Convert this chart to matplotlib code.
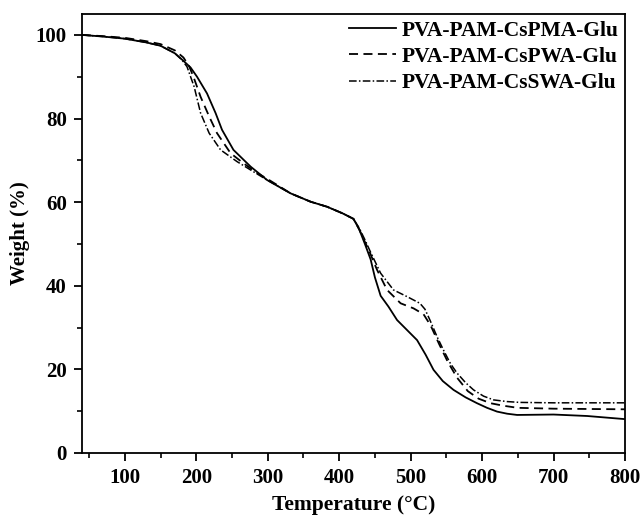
import numpy as np
import matplotlib
matplotlib.use("Agg")
import matplotlib.pyplot as plt
from matplotlib.ticker import MultipleLocator

plt.rcParams['font.family'] = ['Liberation Serif', 'DejaVu Serif']
plt.rcParams['font.weight'] = 'bold'

# TGA curves
temp_pma = [40, 70, 100, 130, 150, 170, 182, 192, 201, 215, 227, 236, 252, 276, 299, 332, 360, 383, 405, 420,
            428, 436, 444, 450, 458, 469, 481, 495, 509, 521, 532, 545, 560, 577, 593, 607, 621, 635, 649, 675,
            700, 747, 800]
w_pma = [100, 99.6, 99.1, 98.2, 97.4, 95.6, 93.8, 92.2, 90, 86, 81.3, 77.3, 72.5, 68.5, 65.3, 62.1, 60.1, 58.9, 57.3, 56,
         53.5, 50, 46.3, 42, 37.6, 35, 31.8, 29.4, 27, 23.5, 19.9, 17.2, 15.1, 13.3, 11.9, 10.8, 9.9, 9.4, 9.1, 9.15,
         9.2, 8.85, 8.1]

temp_pwa = [40, 70, 100, 130, 150, 170, 182, 190, 196, 206, 218, 229, 248, 266, 285, 300, 332, 360, 383, 405,
            420, 428, 436, 444, 453, 467, 486, 504, 518, 528, 540, 552, 565, 580, 595, 612, 630, 650, 700, 800]
w_pwa = [100, 99.7, 99.3, 98.5, 97.8, 96.3, 94.6, 92.5, 90, 85.2, 80.5, 76.5, 71.7, 69.3, 67, 65.5, 62.1, 60.1, 58.9, 57.3,
         56, 53.5, 50.5, 47.5, 43.8, 39, 35.8, 34.6, 33.2, 30.5, 26, 21.8, 18, 14.8, 13, 11.9, 11.3, 10.8, 10.6, 10.45]

temp_swa = [40, 70, 100, 130, 150, 170, 180, 187, 197, 206, 218, 234, 257, 276, 300, 332, 360, 383, 405, 420,
            428, 436, 444, 458, 476, 495, 513, 520, 527, 537, 546, 556, 565, 577, 588, 602, 616, 635, 653, 700, 800]
w_swa = [100, 99.6, 99.1, 98.2, 97.4, 95.6, 94, 92.4, 87.6, 81.3, 76.5, 72.5, 69.7, 67.7, 65.2, 62.1, 60.1, 58.9, 57.3, 56,
         53.8, 51, 48, 43, 39, 37.4, 35.8, 34.4, 31.8, 27.8, 24.6, 21.3, 19.1, 16.8, 15.1, 13.6, 12.7, 12.3, 12.1, 12, 12]

labels = ['PVA-PAM-CsPMA-Glu', 'PVA-PAM-CsPWA-Glu', 'PVA-PAM-CsSWA-Glu']

fig = plt.figure(figsize=(6.42, 5.15), dpi=100)
ax = fig.add_axes([0.1277, 0.1204, 0.8458, 0.8524])

ax.plot(temp_pma, w_pma, color='black', lw=1.3, ls='-', label=labels[0])
ax.plot(temp_pwa, w_pwa, color='black', lw=1.3, ls=(0, (5, 3)), label=labels[1])
ax.plot(temp_swa, w_swa, color='black', lw=1.1, ls=(0, (5, 1.5, 1, 1.5)), label=labels[2])

ax.set_xlim(40, 800)
ax.set_ylim(0, 105)
ax.xaxis.set_major_locator(MultipleLocator(100))
ax.xaxis.set_minor_locator(MultipleLocator(50))
ax.yaxis.set_major_locator(MultipleLocator(20))
ax.yaxis.set_minor_locator(MultipleLocator(10))
ax.tick_params(which='major', direction='out', length=6, width=1.3, labelsize=15, pad=5)
ax.tick_params(which='minor', direction='out', length=3.5, width=1.2)
for s in ax.spines.values():
    s.set_linewidth(1.3)

ax.set_xlabel('Temperature (°C)', fontsize=15.5, fontweight='bold', labelpad=5)
ax.set_ylabel('Weight (%)', fontsize=15, fontweight='bold', labelpad=4)

ax.legend(loc='upper right', frameon=False, fontsize=15.5, handlelength=2.2,
          handletextpad=0.25, labelspacing=0.29, borderaxespad=0.15, borderpad=0.15)

plt.savefig('out.png', dpi=100)
